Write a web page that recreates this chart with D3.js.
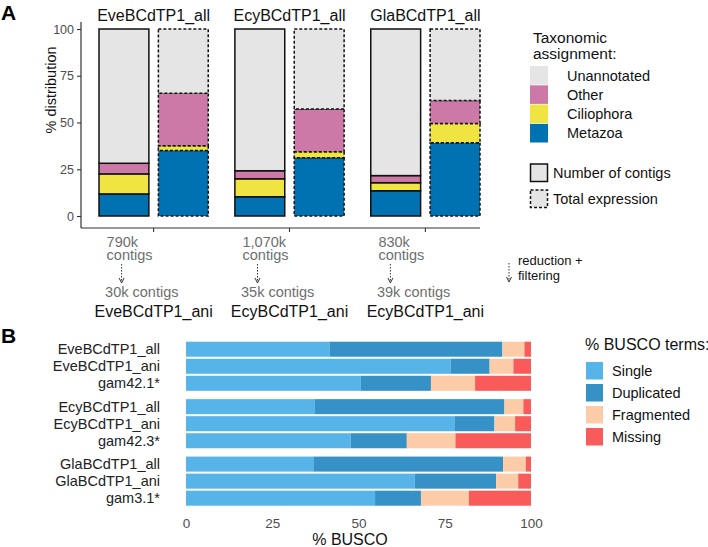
<!DOCTYPE html>
<html><head><meta charset="utf-8">
<script src="https://cdn.jsdelivr.net/npm/d3@7"></script>
<style>body{margin:0;background:#fff} svg{display:block;font-family:"Liberation Sans",Arial,Helvetica,sans-serif}</style>
</head><body><svg id="c" width="708" height="547"></svg>
<script>
// ---------- Panel A data ----------
const groupsA = ["EveBCdTP1_all", "EcyBCdTP1_all", "GlaBCdTP1_all"];
const barTypes = ["Number of contigs", "Total expression"];
const taxa = ["Metazoa", "Ciliophora", "Other", "Unannotated"];
const taxaColors = ["#0072B2", "#F0E442", "#CC79A7", "#E5E5E5"];
// order: Eve contigs, Eve expr, Ecy contigs, Ecy expr, Gla contigs, Gla expr
const metazoa     = [11.8, 35.0, 10.3, 31.2, 13.5, 39.2];
const ciliophora  = [10.7,  2.6,  9.6,  3.2,  4.3, 10.2];
const other       = [ 5.7, 28.0,  4.3, 22.8,  3.8, 12.3];
const unannotated = [71.8, 34.4, 75.8, 42.8, 78.4, 38.3];
const yTicksA = [0, 25, 50, 75, 100];
const contigsAll = ["790k", "1,070k", "830k"];
const contigsAni = ["30k", "35k", "39k"];
const aniLabels = ["EveBCdTP1_ani", "EcyBCdTP1_ani", "EcyBCdTP1_ani"];

// ---------- Panel B data ----------
const samplesB = ["EveBCdTP1_all", "EveBCdTP1_ani", "gam42.1*",
                  "EcyBCdTP1_all", "EcyBCdTP1_ani", "gam42.3*",
                  "GlaBCdTP1_all", "GlaBCdTP1_ani", "gam3.1*"];
const groupB = ["Eve", "Eve", "Eve", "Ecy", "Ecy", "Ecy", "Gla", "Gla", "Gla"];
const buscoTerms = ["Single", "Duplicated", "Fragmented", "Missing"];
const buscoColors = ["#56B4E9", "#3591C6", "#FCCBA8", "#F95A5A"];
const single     = [41.7, 76.7, 50.7, 37.4, 77.8, 47.7, 36.9, 66.3, 54.8];
const duplicated = [50.0, 11.3, 20.3, 54.9, 11.6, 16.3, 55.0, 23.6, 13.3];
const fragmented = [ 6.4,  6.9, 12.8,  5.5,  6.0, 14.1,  6.6,  6.4, 13.9];
const missing    = [ 1.9,  5.1, 16.2,  2.2,  4.6, 21.9,  1.5,  3.7, 18.0];
const xTicksB = [0, 25, 50, 75, 100];

const svg = d3.select("#c");

// ================= PANEL A =================
const yA = d3.scaleLinear().domain([0, 100]).range([216, 29]);
const xG = d3.scaleBand().domain(groupsA).range([99, 480]).paddingInner(0.196);
const xT = d3.scaleBand().domain(barTypes).range([0, xG.bandwidth()]).paddingInner(0.16);
const colA = d3.scaleOrdinal().domain(taxa).range(taxaColors);

const rowsA = [];
groupsA.forEach((g, gi) => barTypes.forEach((t, ti) => {
  const i = gi * 2 + ti;
  rowsA.push({group: g, type: t, Metazoa: metazoa[i], Ciliophora: ciliophora[i], Other: other[i], Unannotated: unannotated[i]});
}));
const stackA = d3.stack().keys(taxa)(rowsA);

svg.append("text").attr("x", 1).attr("y", 20).attr("font-size", 21).attr("font-weight", "bold").text("A");

const gA = svg.append("g");
stackA.forEach(series => {
  gA.selectAll(null).data(series).enter().append("rect")
    .attr("x", d => xG(d.data.group) + xT(d.data.type))
    .attr("width", xT.bandwidth())
    .attr("y", d => yA(d[1]))
    .attr("height", d => yA(d[0]) - yA(d[1]))
    .attr("fill", colA(series.key))
    .attr("stroke", "#111")
    .attr("stroke-width", 1.5)
    .attr("stroke-dasharray", d => d.data.type === "Total expression" ? "3,2" : null);
});

// facet titles
svg.selectAll(null).data(groupsA).enter().append("text")
  .attr("x", d => xG(d) + xG.bandwidth() / 2).attr("y", 21)
  .attr("text-anchor", "middle").attr("font-size", 16).attr("fill", "#111").text(d => d);

// y axis
const yAx = svg.append("g").attr("transform", "translate(81,0)")
  .call(d3.axisLeft(yA).tickValues(yTicksA).tickSize(4).tickPadding(3));
yAx.select(".domain").remove();
yAx.selectAll(".tick line").attr("stroke", "#333").attr("stroke-width", 1.1);
yAx.selectAll(".tick text").attr("font-size", 12.5).attr("fill", "#4d4d4d").attr("font-family", null);
svg.append("line").attr("x1", 81).attr("x2", 81).attr("y1", 22).attr("y2", 228).attr("stroke", "#333").attr("stroke-width", 1.2);
svg.append("text").attr("transform", "translate(56,90) rotate(-90)").attr("text-anchor", "middle")
  .attr("font-size", 14.5).attr("fill", "#111").text("% distribution");

// x axis
const xAx = svg.append("g").attr("transform", "translate(0,228)")
  .call(d3.axisBottom(xG).tickSize(4).tickFormat(""));
xAx.select(".domain").remove();
xAx.selectAll(".tick line").attr("stroke", "#333").attr("stroke-width", 1.1);
svg.append("line").attr("x1", 81).attr("x2", 480).attr("y1", 228).attr("y2", 228).attr("stroke", "#333").attr("stroke-width", 1.2);

// contig counts below axis
const gray = "#6e6e6e";
groupsA.forEach((g, i) => {
  const cx = xG(g) + xG.bandwidth() / 2;
  const left = cx - 47;
  const t = svg.append("text").attr("font-size", 14.5).attr("fill", gray);
  t.append("tspan").attr("x", left).attr("y", 246.5).text(contigsAll[i]);
  t.append("tspan").attr("x", left).attr("y", 260).text("contigs");
  const ax = left + (i === 2 ? 12 : 15);
  svg.append("line").attr("x1", ax).attr("x2", ax).attr("y1", 264).attr("y2", 282)
    .attr("stroke", "#333").attr("stroke-width", 1).attr("stroke-dasharray", "1.5,1.5");
  svg.append("path").attr("d", `M${ax - 2.5},${278} L${ax},${283} L${ax + 2.5},${278}`)
    .attr("fill", "none").attr("stroke", "#333").attr("stroke-width", 1);
  svg.append("text").attr("x", left - 1.5).attr("y", 296.5).attr("font-size", 14.5).attr("fill", gray)
    .text(contigsAni[i] + " contigs");
  svg.append("text").attr("x", cx).attr("y", 317).attr("text-anchor", "middle").attr("font-size", 16)
    .attr("fill", "#111").text(aniLabels[i]);
});
// reduction + filtering note
svg.append("line").attr("x1", 509).attr("x2", 509).attr("y1", 263).attr("y2", 281)
  .attr("stroke", "#333").attr("stroke-width", 1).attr("stroke-dasharray", "1.5,1.5");
svg.append("path").attr("d", "M506.5,277 L509,282 L511.5,277").attr("fill", "none").attr("stroke", "#333").attr("stroke-width", 1);
const rt = svg.append("text").attr("font-size", 13).attr("fill", "#111");
rt.append("tspan").attr("x", 518).attr("y", 265).text("reduction +");
rt.append("tspan").attr("x", 518).attr("y", 280).text("filtering");

// legend A
const lgA = svg.append("g");
const ta = lgA.append("text").attr("font-size", 15.5).attr("fill", "#111");
ta.append("tspan").attr("x", 533).attr("y", 43).text("Taxonomic");
ta.append("tspan").attr("x", 533).attr("y", 59).text("assignment:");
const legTaxa = taxa.slice().reverse();
legTaxa.forEach((k, i) => {
  const y0 = 66 + i * 19.3;
  lgA.append("rect").attr("x", 530).attr("y", y0).attr("width", 18).attr("height", 18.6).attr("fill", colA(k));
  lgA.append("text").attr("x", 567).attr("y", y0 + 14.5).attr("font-size", 14.5).attr("fill", "#111").text(k);
});
barTypes.forEach((k, i) => {
  const y0 = 164 + i * 26;
  lgA.append("rect").attr("x", 530.5).attr("y", y0).attr("width", 17).attr("height", 17.5)
    .attr("fill", "#E5E5E5").attr("stroke", "#111").attr("stroke-width", 1.5)
    .attr("stroke-dasharray", i === 1 ? "3,2" : null);
  lgA.append("text").attr("x", 553).attr("y", y0 + 14).attr("font-size", 14.5).attr("fill", "#111").text(k);
});

// ================= PANEL B =================
svg.append("text").attr("x", 1).attr("y", 343).attr("font-size", 21).attr("font-weight", "bold").text("B");

const xB = d3.scaleLinear().domain([0, 100]).range([186, 531]);
const groupsB = Array.from(new Set(groupB));
const yGB = d3.scaleBand().domain(groupsB).range([341.7, 505.7]).paddingInner(0.145);
const yRB = d3.scaleBand().domain([0, 1, 2]).range([0, yGB.bandwidth()]).paddingInner(0.118);
const colB = d3.scaleOrdinal().domain(buscoTerms).range(buscoColors);

const rowsB = samplesB.map((s, i) => ({sample: s, group: groupB[i], idx: i % 3,
  Single: single[i], Duplicated: duplicated[i], Fragmented: fragmented[i], Missing: missing[i]}));
const stackB = d3.stack().keys(buscoTerms)(rowsB);
const yRow = d => yGB(d.group) + yRB(d.idx);

stackB.forEach(series => {
  svg.selectAll(null).data(series).enter().append("rect")
    .attr("x", d => xB(d[0])).attr("width", d => xB(d[1]) - xB(d[0]))
    .attr("y", d => yRow(d.data)).attr("height", yRB.bandwidth())
    .attr("fill", colB(series.key));
});

svg.selectAll(null).data(rowsB).enter().append("text")
  .attr("x", 160).attr("y", d => yRow(d) + yRB.bandwidth() / 2)
  .attr("dy", "0.35em").attr("text-anchor", "end").attr("font-size", 14.5).attr("fill", "#222")
  .text(d => d.sample);

const xBx = svg.append("g").attr("transform", "translate(0,510)")
  .call(d3.axisBottom(xB).tickValues(xTicksB).tickSize(0).tickPadding(8));
xBx.select(".domain").remove();
xBx.selectAll(".tick text").attr("font-size", 13.5).attr("fill", "#4d4d4d").attr("font-family", null);
svg.append("text").attr("x", 350).attr("y", 545).attr("text-anchor", "middle").attr("font-size", 16)
  .attr("fill", "#111").text("% BUSCO");

// legend B
svg.append("text").attr("x", 585).attr("y", 350).attr("font-size", 16).attr("fill", "#111").text("% BUSCO terms:");
buscoTerms.forEach((k, i) => {
  const y0 = 362 + i * 22;
  svg.append("rect").attr("x", 586).attr("y", y0).attr("width", 17).attr("height", 17.5).attr("fill", colB(k));
  svg.append("text").attr("x", 612).attr("y", y0 + 14).attr("font-size", 14.5).attr("fill", "#111").text(k);
});
</script></body></html>
